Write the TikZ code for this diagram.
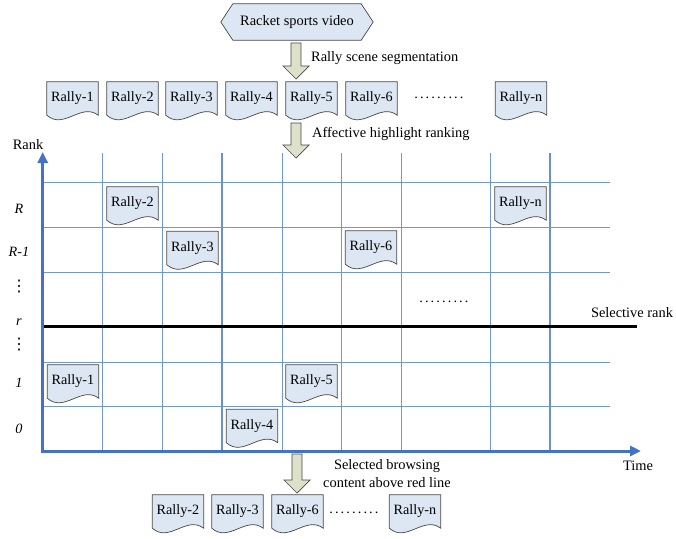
\documentclass[tikz,border=0pt]{standalone}
\usepackage{fontspec}
\setmainfont{Liberation Serif}
\newfontfamily\djv{DejaVu Sans}
\usetikzlibrary{arrows.meta,calc}
\pgfdeclarelayer{gridlayer}
\pgfdeclarelayer{doclayer}
\pgfsetlayers{gridlayer,doclayer,main}
\definecolor{docblue}{RGB}{221,231,243}
\definecolor{edgegray}{RGB}{70,70,70}
\definecolor{khaki}{RGB}{222,225,201}
\definecolor{axisblue}{RGB}{68,114,196}
\definecolor{gridblue}{RGB}{112,150,214}
\newcommand\vdts{{\djv\fontsize{16}{16}\selectfont ⋮}}
\newcommand\dotsrow{\foreach \i in {1,...,9}{.\kern2.1pt}}
\tikzset{
  lbl/.style={font=\fontsize{14.4}{18}\selectfont, inner sep=0pt},
  ylbl/.style={font=\fontsize{14.2}{18}\selectfont\itshape, inner sep=0pt},
  rdoc/.style={minimum width=51pt, minimum height=38pt, inner sep=0pt,
    text height=10pt, text depth=9pt, font=\fontsize{14.2}{16}\selectfont},
  docshape/.style={draw=edgegray, fill=docblue, line width=0.7pt},
  barrow/.style={draw=edgegray, fill=khaki, line width=0.7pt},
  gridline/.style={draw=gridblue, line width=0.9pt},
  gridbold/.style={draw=gridblue!80!axisblue, line width=1.4pt},
}
\newcommand\rallydoc[3]{%
  \node[rdoc] (#1) at (#2) {#3};
  \begin{pgfonlayer}{doclayer}
    \draw[docshape] (#1.north west) -- (#1.north east) -- ([shift={(0,-5)}]#1.south east)
      .. controls ([shift={(-17,-18)}]#1.south east) and ([shift={(17,10)}]#1.south west)
      .. ([shift={(0,-5)}]#1.south west) -- cycle;
  \end{pgfonlayer}}
\newcommand\blockarrow[3]{%
  \draw[barrow] (#1-5,#2) -- (#1+5,#2) -- (#1+5,#3-13) -- (#1+13,#3-13) -- (#1,#3)
    -- (#1-13,#3-13) -- (#1-5,#3-13) -- cycle;}
\begin{document}
\begin{tikzpicture}[x=1pt,y=-1pt]
\useasboundingbox (0,0) rectangle (676,538);

% source video
\node[lbl, minimum width=152pt, minimum height=36pt] (video) at (297,22) {Racket sports video};
\begin{pgfonlayer}{doclayer}
  \draw[docshape] (video.west) -- ([xshift=12pt]video.north west) -- ([xshift=-12pt]video.north east)
    -- (video.east) -- ([xshift=-12pt]video.south east) -- ([xshift=12pt]video.south west) -- cycle;
\end{pgfonlayer}

\blockarrow{296}{43}{79}
\node[lbl, anchor=west] (seg) at (311,58) {Rally scene segmentation};

% top row
\rallydoc{t1}{72.5,101}{Rally-1}
\rallydoc{t2}{132.5,101}{Rally-2}
\rallydoc{t3}{191.5,101}{Rally-3}
\rallydoc{t4}{251.5,101}{Rally-4}
\rallydoc{t5}{311.5,101}{Rally-5}
\rallydoc{t6}{371.5,101}{Rally-6}
\node[lbl] (tdots) at (440,98) {\dotsrow};
\rallydoc{tn}{521,101}{Rally-n}

\blockarrow{296}{123}{158}
\node[lbl, anchor=west] (aff) at (312,134) {Affective highlight ranking};

% grid
\begin{pgfonlayer}{gridlayer}
  \foreach \x in {102.7,162.7,282,341.7,401,490} \draw[gridline] (\x,153) -- (\x,451);
  \foreach \x in {222,550} \draw[gridbold] (\x,153) -- (\x,451);
  \foreach \y in {182.7,227.7,272.7,362,406} \draw[gridline] (42.7,\y) -- (610,\y);
  \draw[line width=3pt] (42.7,326) -- (637,326);
  \coordinate (ytip) at (42.7,152);
  \coordinate (origin) at (42.7,451);
  \coordinate (xtip) at (641,451);
  \draw[axisblue, line width=3pt,
    {Triangle[length=11pt,width=10pt]}-{Triangle[length=11pt,width=10pt]}]
    (ytip) -- (origin) -- (xtip);
\end{pgfonlayer}

\node[lbl] (rank) at (28,145) {Rank};
\node[lbl] (time) at (638,466) {Time};
\node[lbl] (selrank) at (632,313) {Selective rank};
\node[ylbl] (yR) at (19,209) {R};
\node[ylbl] (yR1) at (19,252) {R-1};
\node[lbl] (yd1) at (19,287) {\vdts};
\node[ylbl] (yr) at (19,322) {r};
\node[lbl] (yd2) at (19,345) {\vdts};
\node[ylbl] (y1) at (19,383) {1};
\node[ylbl] (y0) at (19,429) {0};

\rallydoc{g2}{132.5,206}{Rally-2}
\rallydoc{g3}{192.5,250.5}{Rally-3}
\rallydoc{g6}{371,250}{Rally-6}
\rallydoc{gn}{520.5,206}{Rally-n}
\node[lbl] (gdots) at (445,302) {\dotsrow};
\rallydoc{g1}{73,384}{Rally-1}
\rallydoc{g5}{311.5,384}{Rally-5}
\rallydoc{g4}{252,428.5}{Rally-4}

\blockarrow{297}{454}{493}
\node[lbl, align=center] (sel) at (387,474) {Selected browsing\\content above red line};

% bottom row
\rallydoc{b2}{178,514}{Rally-2}
\rallydoc{b3}{237.5,514}{Rally-3}
\rallydoc{b6}{297.5,514}{Rally-6}
\node[lbl] (bdots) at (355,513) {\dotsrow};
\rallydoc{bn}{415,514}{Rally-n}
\end{tikzpicture}
\end{document}
